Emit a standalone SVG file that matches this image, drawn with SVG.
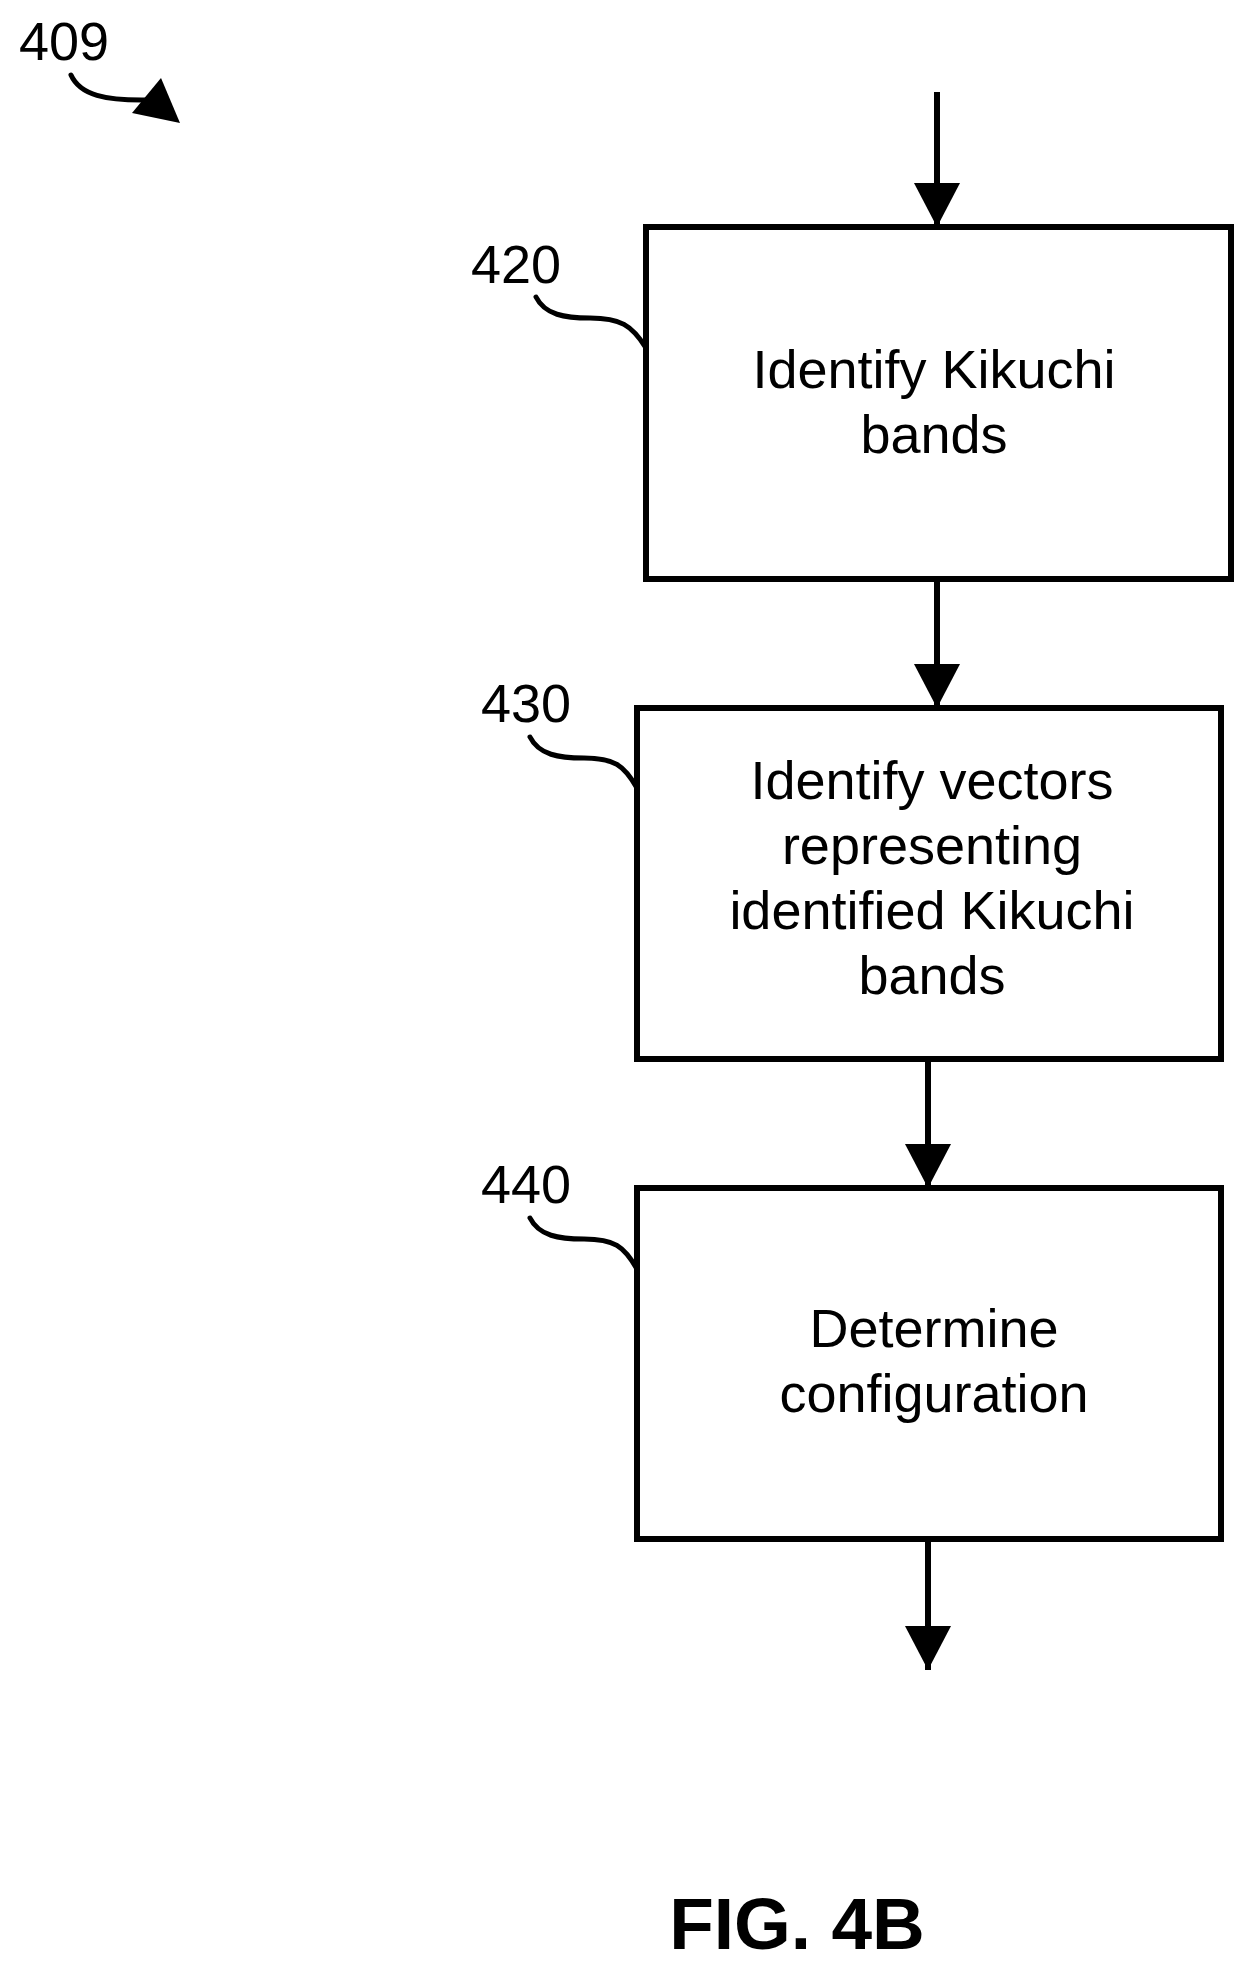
<svg xmlns="http://www.w3.org/2000/svg" width="1256" height="1971" viewBox="0 0 1256 1971">
<style>
.t{font-family:"Liberation Sans",Arial,sans-serif;font-size:54px;fill:#000;text-anchor:middle}
.l{font-family:"Liberation Sans",Arial,sans-serif;font-size:54px;fill:#000}
.b{fill:#fff;stroke:#000;stroke-width:6}
.c{fill:none;stroke:#000;stroke-width:6}
.lead{fill:none;stroke:#000;stroke-width:5;stroke-linecap:round}
</style>
<defs><marker id="ah" markerUnits="userSpaceOnUse" markerWidth="46" markerHeight="46" refX="44" refY="23" orient="auto"><path d="M0,0 L44,23 L0,46 Z" fill="#000"/></marker></defs>
<rect width="1256" height="1971" fill="#fff"/>
<g id="label409"><text class="l" x="19" y="60">409</text>
<path class="lead" d="M71,75 C80,95 105,101 150,100" stroke-width="7"/>
<path d="M161,78 L180,123 L132,113 Z" fill="#000"/></g>
<g id="n420"><rect class="b" x="646" y="227" width="585" height="352"/>
<text class="t" x="934" y="388">Identify Kikuchi</text><text class="t" x="934" y="453">bands</text>
<text class="l" x="471" y="283">420</text>
<path class="lead" d="M536,297 C545,315 565,318 590,318 C620,318 632,325 646,348"/></g>
<g id="n430"><rect class="b" x="637" y="708" width="584" height="351"/>
<text class="t" x="932" y="799">Identify vectors</text><text class="t" x="932" y="864">representing</text>
<text class="t" x="932" y="929">identified Kikuchi</text><text class="t" x="932" y="994">bands</text>
<text class="l" x="481" y="722">430</text>
<path class="lead" d="M530,737 C539,755 559,758 584,758 C614,758 624,765 637,788"/></g>
<g id="n440"><rect class="b" x="637" y="1188" width="584" height="351"/>
<text class="t" x="934" y="1347">Determine</text><text class="t" x="934" y="1412">configuration</text>
<text class="l" x="481" y="1203">440</text>
<path class="lead" d="M530,1218 C539,1236 559,1239 584,1239 C614,1239 624,1246 637,1269"/></g>
<g id="connectors">
<line class="c" x1="937" y1="92" x2="937" y2="227" marker-end="url(#ah)"/>
<line class="c" x1="937" y1="579" x2="937" y2="708" marker-end="url(#ah)"/>
<line class="c" x1="928" y1="1059" x2="928" y2="1188" marker-end="url(#ah)"/>
<line class="c" x1="928" y1="1539" x2="928" y2="1670" marker-end="url(#ah)"/>
</g>
<text x="797" y="1949" font-family="Liberation Sans,Arial,sans-serif" font-size="73" font-weight="bold" text-anchor="middle">FIG. 4B</text>
</svg>
